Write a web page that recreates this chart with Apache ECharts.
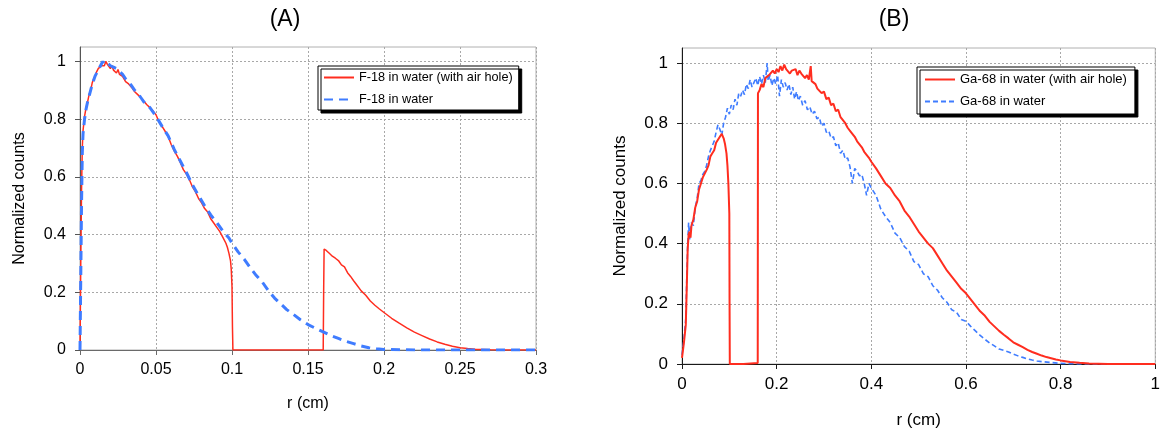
<!DOCTYPE html>
<html>
<head>
<meta charset="utf-8">
<script src="https://cdn.jsdelivr.net/npm/echarts@6/dist/echarts.min.js"></script>
<style>
html,body{margin:0;padding:0;background:#fff;}
#c{width:1163px;height:434px;}
</style>
</head>
<body>
<div id="c"></div>
<script>
// ---------- Data: panel (A) F-18 ----------
const aTitle = '(A)';
const aRedName = 'F-18 in water (with air hole)';
const aBlueName = 'F-18 in water';
const aRedX = [0,0.0005,0.001,0.0015,0.002,0.003,0.004,0.005,0.006,0.007,0.008,0.009,0.010,0.011,0.012,0.013,0.014,0.015,0.016,0.017,0.018,0.019,0.020,0.021,0.022,0.023,0.024,0.025,0.026,0.027,0.028,0.029,0.030,0.032,0.034,0.036,0.038,0.040,0.042,0.044,0.046,0.048,0.050,0.052,0.054,0.056,0.058,0.060,0.062,0.064,0.066,0.068,0.070,0.072,0.074,0.076,0.078,0.080,0.082,0.084,0.086,0.088,0.090,0.092,0.094,0.096,0.097,0.098,0.099,0.0995,0.100,0.1003,0.1006,0.130,0.1600,0.1603,0.1606,0.162,0.164,0.166,0.168,0.170,0.172,0.174,0.176,0.178,0.180,0.182,0.185,0.188,0.191,0.194,0.197,0.200,0.205,0.210,0.215,0.220,0.225,0.230,0.235,0.240,0.245,0.250,0.255,0.260,0.270,0.280,0.300];
const aRedY = [0,0.30,0.55,0.70,0.76,0.81,0.84,0.86,0.885,0.90,0.925,0.94,0.95,0.965,0.975,0.97,0.985,0.99,0.985,1.0,0.99,0.985,0.975,0.985,0.97,0.975,0.96,0.972,0.955,0.96,0.948,0.945,0.93,0.922,0.91,0.895,0.885,0.875,0.862,0.85,0.84,0.828,0.815,0.79,0.775,0.758,0.74,0.712,0.69,0.672,0.65,0.625,0.61,0.59,0.565,0.548,0.525,0.51,0.49,0.478,0.455,0.44,0.425,0.41,0.39,0.37,0.355,0.335,0.31,0.28,0.22,0.08,0,0,0,0.2,0.35,0.345,0.335,0.325,0.318,0.31,0.295,0.288,0.268,0.255,0.24,0.226,0.205,0.19,0.17,0.155,0.142,0.13,0.11,0.093,0.077,0.062,0.05,0.038,0.028,0.02,0.013,0.008,0.005,0.003,0.001,0,0];
const aBlueX = [0,0.0005,0.001,0.0015,0.002,0.003,0.004,0.005,0.006,0.008,0.010,0.012,0.014,0.015,0.016,0.018,0.020,0.022,0.024,0.026,0.028,0.030,0.032,0.034,0.036,0.038,0.040,0.042,0.044,0.046,0.048,0.050,0.054,0.058,0.062,0.066,0.070,0.074,0.078,0.082,0.086,0.090,0.094,0.098,0.100,0.104,0.108,0.112,0.116,0.120,0.124,0.128,0.132,0.136,0.140,0.145,0.150,0.155,0.160,0.165,0.170,0.175,0.180,0.185,0.190,0.195,0.200,0.210,0.220,0.300];
const aBlueY = [0,0.25,0.50,0.68,0.75,0.80,0.835,0.86,0.88,0.92,0.95,0.97,0.99,1.0,0.99,0.995,0.985,0.98,0.975,0.965,0.955,0.94,0.93,0.915,0.90,0.89,0.875,0.86,0.85,0.84,0.825,0.81,0.775,0.742,0.695,0.655,0.615,0.572,0.535,0.50,0.468,0.442,0.412,0.388,0.37,0.34,0.315,0.285,0.258,0.235,0.205,0.18,0.16,0.14,0.125,0.105,0.088,0.075,0.063,0.05,0.04,0.03,0.022,0.014,0.008,0.004,0.002,0.001,0,0];
const aXTicks = {min:0, max:0.3, interval:0.05};
const aYTickValues = [0,0.2,0.4,0.6,0.8,1];

// ---------- Data: panel (B) Ga-68 ----------
const bTitle = '(B)';
const bRedName = 'Ga-68 in water (with air hole)';
const bBlueName = 'Ga-68 in water';
const bRedX = [0,0.004,0.008,0.010,0.012,0.014,0.016,0.018,0.020,0.024,0.028,0.032,0.036,0.040,0.044,0.048,0.052,0.056,0.060,0.064,0.068,0.072,0.076,0.080,0.084,0.088,0.091,0.094,0.096,0.098,0.100,0.1005,0.101,0.130,0.160,0.1605,0.164,0.168,0.172,0.176,0.180,0.184,0.188,0.192,0.196,0.200,0.204,0.208,0.212,0.216,0.220,0.224,0.228,0.232,0.236,0.240,0.244,0.248,0.252,0.256,0.260,0.264,0.268,0.272,0.274,0.278,0.282,0.286,0.290,0.295,0.300,0.305,0.310,0.315,0.320,0.325,0.330,0.335,0.340,0.345,0.350,0.355,0.360,0.365,0.370,0.375,0.380,0.385,0.390,0.395,0.400,0.41,0.42,0.43,0.44,0.45,0.46,0.47,0.48,0.49,0.50,0.51,0.52,0.53,0.54,0.55,0.56,0.57,0.58,0.59,0.60,0.61,0.62,0.63,0.64,0.65,0.66,0.67,0.68,0.69,0.70,0.71,0.72,0.73,0.74,0.75,0.76,0.77,0.78,0.79,0.80,0.82,0.84,0.86,0.88,0.90,1.0];
const bRedY = [0.02,0.07,0.13,0.25,0.38,0.43,0.44,0.42,0.46,0.48,0.52,0.54,0.58,0.60,0.62,0.625,0.645,0.66,0.69,0.70,0.71,0.735,0.74,0.755,0.765,0.75,0.73,0.70,0.66,0.60,0.50,0.2,0,0,0.003,0.90,0.91,0.93,0.92,0.95,0.945,0.96,0.955,0.975,0.965,0.98,0.97,0.99,0.975,0.995,0.98,0.985,0.965,0.975,0.97,0.98,0.96,0.975,0.965,0.97,0.95,0.96,0.945,0.99,0.94,0.935,0.93,0.915,0.92,0.90,0.905,0.88,0.885,0.86,0.865,0.84,0.845,0.82,0.81,0.80,0.785,0.775,0.765,0.755,0.74,0.73,0.72,0.705,0.695,0.685,0.672,0.65,0.625,0.60,0.585,0.56,0.54,0.51,0.49,0.465,0.44,0.42,0.40,0.385,0.36,0.335,0.31,0.29,0.27,0.25,0.235,0.215,0.195,0.175,0.16,0.14,0.125,0.11,0.097,0.085,0.072,0.064,0.056,0.047,0.04,0.034,0.028,0.023,0.019,0.015,0.012,0.007,0.004,0.002,0.001,0,0];
const bBlueX = [0,0.004,0.008,0.010,0.012,0.014,0.016,0.018,0.020,0.024,0.028,0.032,0.036,0.040,0.044,0.048,0.052,0.056,0.060,0.064,0.068,0.072,0.076,0.080,0.084,0.088,0.092,0.096,0.100,0.104,0.108,0.112,0.116,0.120,0.124,0.128,0.132,0.136,0.140,0.144,0.148,0.152,0.156,0.160,0.164,0.168,0.172,0.176,0.180,0.182,0.186,0.190,0.194,0.198,0.202,0.206,0.210,0.214,0.218,0.222,0.226,0.230,0.234,0.238,0.242,0.246,0.250,0.255,0.260,0.265,0.270,0.275,0.280,0.285,0.290,0.295,0.300,0.305,0.310,0.315,0.320,0.325,0.330,0.335,0.340,0.345,0.350,0.355,0.360,0.365,0.370,0.375,0.380,0.385,0.390,0.395,0.400,0.41,0.42,0.43,0.44,0.45,0.46,0.47,0.48,0.49,0.50,0.51,0.52,0.53,0.54,0.55,0.56,0.57,0.58,0.59,0.60,0.61,0.62,0.63,0.64,0.65,0.66,0.67,0.68,0.69,0.70,0.71,0.72,0.73,0.74,0.75,0.76,0.78,0.80,0.82,0.85,1.0];
const bBlueY = [0.03,0.08,0.15,0.28,0.40,0.47,0.41,0.45,0.47,0.46,0.52,0.55,0.60,0.61,0.63,0.64,0.66,0.69,0.71,0.705,0.74,0.77,0.795,0.78,0.76,0.80,0.82,0.85,0.83,0.86,0.845,0.88,0.86,0.90,0.89,0.91,0.895,0.93,0.915,0.945,0.92,0.935,0.95,0.925,0.955,0.93,0.96,0.935,1.0,0.94,0.96,0.925,0.95,0.93,0.96,0.89,0.945,0.92,0.935,0.91,0.93,0.895,0.92,0.88,0.905,0.875,0.89,0.86,0.875,0.845,0.855,0.83,0.84,0.815,0.82,0.79,0.80,0.77,0.775,0.75,0.755,0.725,0.735,0.70,0.71,0.68,0.685,0.655,0.60,0.65,0.64,0.625,0.63,0.60,0.56,0.60,0.585,0.56,0.515,0.49,0.47,0.435,0.42,0.39,0.375,0.34,0.33,0.30,0.29,0.26,0.245,0.22,0.205,0.18,0.172,0.148,0.142,0.125,0.11,0.095,0.082,0.07,0.06,0.05,0.045,0.04,0.033,0.027,0.022,0.017,0.013,0.01,0.008,0.005,0.002,0.001,0,0];
const bXTicks = {min:0, max:1, interval:0.2};
const bYTickValues = [0,0.2,0.4,0.6,0.8,1];

const yMax = 1.05;
const xName = 'r (cm)';
const yName = 'Normalized counts';

// ---------- Build ----------
const FONT = '"Liberation Sans", Arial, sans-serif';
const RED = '#ff2d1f';
const BLUE = '#3f7cff';
function pairs(xs, ys){ return xs.map((x,i)=>[x, ys[i]]); }

function xAxisCfg(gi, t, axisColor, fs, nfs, gap){
  return {
    type:'value', gridIndex:gi, min:t.min, max:t.max, interval:t.interval,
    name:xName, nameLocation:'middle', nameGap:gap,
    nameTextStyle:{fontFamily:FONT, fontSize:nfs, color:'#000'},
    axisLine:{show:true, onZero:false, lineStyle:{color:axisColor, width:1}},
    axisTick:{show:true, length:5, lineStyle:{color:axisColor}},
    axisLabel:{fontFamily:FONT, fontSize:fs, color:'#000', margin:12},
    splitLine:{show:true, lineStyle:{color:'#a8a8a8', type:[2,2], width:1}}
  };
}
function yAxisCfg(gi, ticks, axisColor, fs, nfs, gap){
  return {
    type:'value', gridIndex:gi, min:0, max:yMax, interval:0.2,
    name:yName, nameLocation:'middle', nameGap:gap,
    nameTextStyle:{fontFamily:FONT, fontSize:nfs, color:'#000'},
    axisLine:{show:true, onZero:false, lineStyle:{color:axisColor, width:1}},
    axisTick:{show:true, length:5, customValues:ticks, lineStyle:{color:axisColor}},
    axisLabel:{fontFamily:FONT, fontSize:fs, color:'#000', margin:14, customValues:ticks},
    splitLine:{show:true, lineStyle:{color:'#a8a8a8', type:[2,2], width:1}}
  };
}
function legendCfg(names, left, top, padding, fs){
  return {
    data:names, orient:'vertical', left:left, top:top, padding:padding,
    itemWidth:30, itemHeight:14, itemGap:9,
    backgroundColor:'#fff', borderColor:'#000', borderWidth:1,
    shadowColor:'#000', shadowBlur:0, shadowOffsetX:3, shadowOffsetY:3,
    itemStyle:{opacity:0, color:'rgba(0,0,0,0)', borderWidth:0},
    textStyle:{fontFamily:FONT, fontSize:fs, color:'#000'},
    selectedMode:false
  };
}

const option = {
  animation:false,
  backgroundColor:'#fff',
  grid:[
    {left:80, top:47, width:456, height:303, show:true, borderColor:'#b0b0b0', borderWidth:1, containLabel:false},
    {left:682, top:48, width:476, height:316, show:true, borderColor:'#b0b0b0', borderWidth:1, containLabel:false}
  ],
  xAxis:[ xAxisCfg(0, aXTicks, '#6a6a6a', 16, 16, 46), xAxisCfg(1, bXTicks, '#1a1a1a', 17, 17, 48) ],
  yAxis:[ yAxisCfg(0, aYTickValues, '#555', 16, 16, 52), yAxisCfg(1, bYTickValues, '#1a1a1a', 17, 17, 53) ],
  legend:[
    legendCfg([aRedName, aBlueName], 318, 66, [5,6,4,5], 12.7),
    legendCfg([bRedName, bBlueName], 917, 67, [6,8,6,7], 13)
  ],
  graphic:[
    {type:'text', x:285, y:20, style:{text:aTitle, fill:'#000', font:'23px ' + FONT, align:'center', verticalAlign:'middle', textAlign:'center', textVerticalAlign:'middle'}},
    {type:'text', x:894, y:20, style:{text:bTitle, fill:'#000', font:'23px ' + FONT, align:'center', verticalAlign:'middle', textAlign:'center', textVerticalAlign:'middle'}}
  ],
  series:[
    {name:aRedName, type:'line', xAxisIndex:0, yAxisIndex:0, data:pairs(aRedX, aRedY), showSymbol:false, symbol:'none', z:2,
     lineStyle:{color:RED, width:1.5}, itemStyle:{color:RED}},
    {name:aBlueName, type:'line', xAxisIndex:0, yAxisIndex:0, data:pairs(aBlueX, aBlueY), showSymbol:false, symbol:'none', z:3,
     lineStyle:{color:BLUE, width:3, type:[9,6]}, itemStyle:{color:BLUE}},
    {name:bRedName, type:'line', xAxisIndex:1, yAxisIndex:1, data:pairs(bRedX, bRedY), showSymbol:false, symbol:'none', z:3,
     lineStyle:{color:RED, width:2}, itemStyle:{color:RED}},
    {name:bBlueName, type:'line', xAxisIndex:1, yAxisIndex:1, data:pairs(bBlueX, bBlueY), showSymbol:false, symbol:'none', z:2,
     lineStyle:{color:BLUE, width:1.6, type:[5,3]}, itemStyle:{color:BLUE}}
  ]
};
const chart = echarts.init(document.getElementById('c'), null, {renderer:'canvas'});
chart.setOption(option);
</script>
</body>
</html>
